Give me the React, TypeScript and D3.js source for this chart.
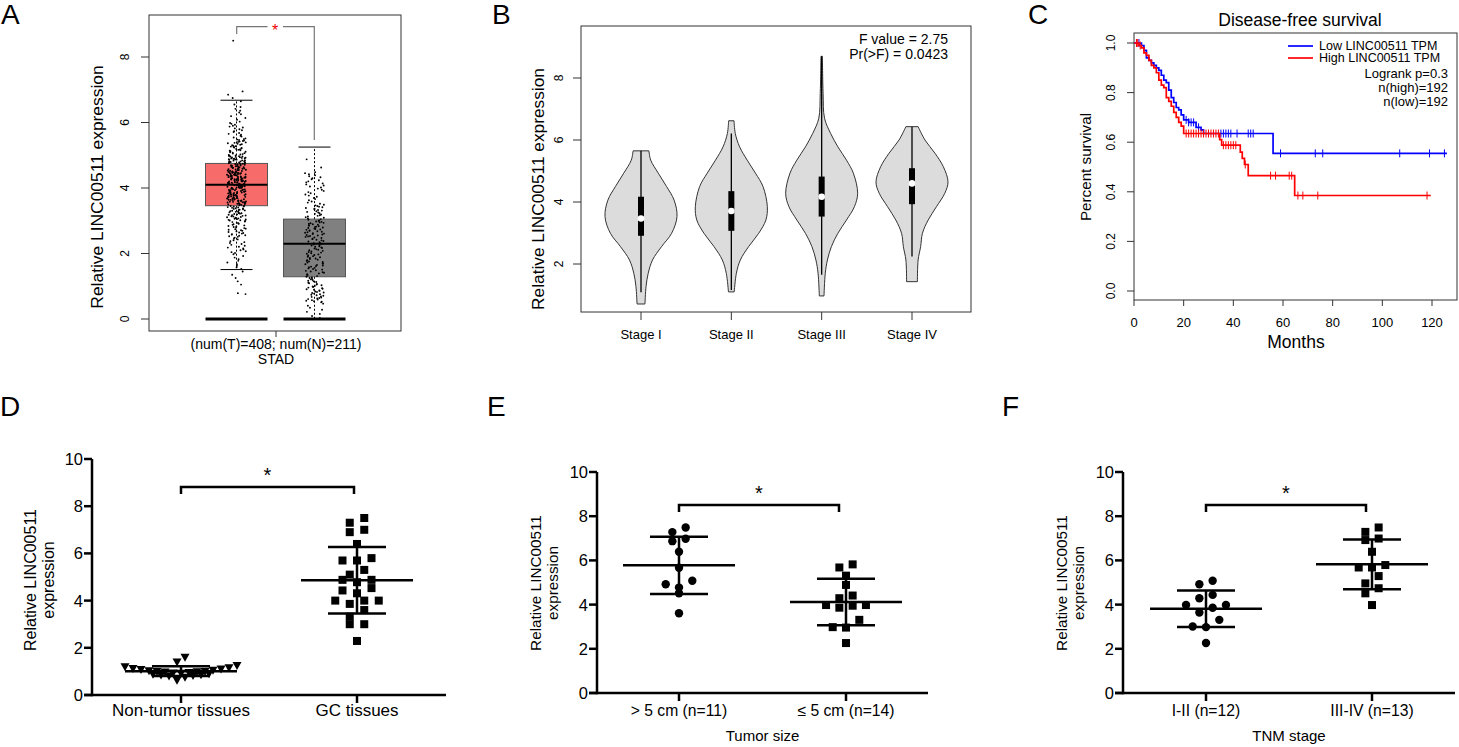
import React from 'react';
import * as d3 from 'd3';

const FONT = "'Liberation Sans', Arial, Helvetica, sans-serif";

// ---------- A: GEPIA box plot (STAD) ----------
const stadTicks = [0, 2, 4, 6, 8];
// [lower whisker, q1, median, q3, upper whisker]
const tumorBox = [1.51, 3.46, 4.1, 4.75, 6.68];
const normalBox = [0.0, 1.29, 2.3, 3.05, 5.25];
// jitter points, read as counts per 0.5-wide bin
const tumorBinStart = 1.0;
const tumorBinCounts = [5, 10, 18, 30, 45, 75, 90, 65, 35, 18, 9, 5];
const tumorExtremes = [0.76, 0.79, 8.5];
const normalBinStart = 0;
const normalBinCounts = [8, 30, 25, 28, 28, 35, 25, 14, 16, 2];

// ---------- B: violin by stage ----------
const stageLabels = ['Stage I', 'Stage II', 'Stage III', 'Stage IV'];
const stageTicks = [2, 4, 6, 8];
// [value, relative density]
const violinStageI: [number, number][] = [
  [0.71, 0.11], [1.27, 0.14], [1.7, 0.2], [2.13, 0.32], [2.56, 0.57], [2.99, 0.85],
  [3.53, 1.0], [4.06, 0.92], [4.5, 0.71], [4.93, 0.48], [5.35, 0.27], [5.65, 0.22],
];
const violinStageII: [number, number][] = [
  [1.1, 0.08], [1.7, 0.14], [2.13, 0.25], [2.56, 0.48], [2.99, 0.76], [3.42, 0.96],
  [3.85, 1.0], [4.5, 0.88], [4.93, 0.67], [5.35, 0.44], [5.78, 0.23], [6.21, 0.11], [6.62, 0.075],
];
const violinStageIII: [number, number][] = [
  [0.97, 0.065], [1.7, 0.1], [2.13, 0.16], [2.56, 0.27], [2.99, 0.45], [3.42, 0.69],
  [3.85, 0.91], [4.28, 1.0], [4.93, 0.88], [5.35, 0.69], [5.78, 0.45], [6.21, 0.25],
  [6.7, 0.08], [7.5, 0.04], [8.7, 0.02],
];
const violinStageIV: [number, number][] = [
  [1.43, 0.15], [2.13, 0.17], [2.56, 0.24], [2.99, 0.29], [3.42, 0.45], [3.85, 0.68],
  [4.28, 0.91], [4.65, 1.0], [5.14, 0.87], [5.57, 0.64], [6.0, 0.36], [6.43, 0.17],
];
const stageViolins = [violinStageI, violinStageII, violinStageIII, violinStageIV];
const stageQ1 = [2.91, 3.07, 3.53, 3.93];
const stageMedian = [3.47, 3.71, 4.17, 4.6];
const stageQ3 = [4.17, 4.35, 4.82, 5.09];
const stageLow = [1.09, 1.16, 1.65, 2.24];
const stageHigh = [5.65, 6.21, 8.7, 6.43];

// ---------- C: Kaplan-Meier ----------
const kmXTicks = [0, 20, 40, 60, 80, 100, 120];
const kmYTicks = [0, 0.2, 0.4, 0.6, 0.8, 1.0];
const lowTimes = [0, 3, 4, 5, 6, 7, 8, 9, 10, 11, 12, 13, 14, 15, 16, 17, 18, 19, 20, 22, 25, 27, 28, 56];
const lowSurv = [1.0, 0.99, 0.97, 0.94, 0.93, 0.92, 0.91, 0.9, 0.89, 0.87, 0.85, 0.84, 0.81, 0.78, 0.76, 0.74, 0.73, 0.71, 0.69, 0.68, 0.66, 0.65, 0.635, 0.555];
const lowEnd = 126;
const lowCensor = [1, 2, 21, 22, 23, 24, 26, 35, 36, 37, 38, 39, 41.5, 46, 47, 48, 59, 73, 76, 107, 119, 125];
const highTimes = [0, 2, 3, 4, 5, 6, 7, 8, 9, 10, 11, 12, 13, 14, 15, 16, 17, 18, 19, 20, 34.5, 35.3, 42.8, 43.6, 44.5, 46, 64.7];
const highSurv = [1.0, 0.99, 0.98, 0.96, 0.95, 0.93, 0.91, 0.9, 0.88, 0.85, 0.83, 0.82, 0.78, 0.765, 0.745, 0.72, 0.7, 0.68, 0.665, 0.635, 0.61, 0.588, 0.56, 0.535, 0.51, 0.465, 0.385];
const highEnd = 119.5;
const highCensor = [1, 1.5, 2.5, 21, 22, 23, 24, 25, 26, 27, 28, 29, 30, 31, 32, 33, 34, 36, 37, 38, 39, 40, 41, 44.8, 55, 57, 62.5, 63.5, 66, 68, 74, 118];
const kmLegend = ['Low LINC00511 TPM', 'High LINC00511 TPM'];
const kmNotes = ['Logrank p=0.3', 'n(high)=192', 'n(low)=192'];

// ---------- D/E/F: dot plots ----------
const dotTicks = [0, 2, 4, 6, 8, 10];
const nonTumor = [1.6, 1.4, 1.25, 1.2, 1.15, 1.12, 1.1, 1.08, 1.05, 1.03, 1.0, 1.0, 0.98, 0.97, 0.95, 0.93, 0.92, 0.9, 0.88, 0.86, 0.85, 0.83, 0.8, 0.75, 0.62];
const gcTissue = [7.5, 7.0, 7.3, 6.9, 6.4, 5.7, 5.7, 5.8, 5.3, 5.1, 4.78, 4.88, 4.88, 4.43, 4.53, 4.31, 4.0, 4.0, 4.0, 3.86, 3.6, 3.32, 3.0, 3.0, 2.29];
const bigTumor = [7.49, 7.28, 6.87, 6.98, 6.39, 5.67, 5.08, 4.92, 4.77, 4.51, 3.61];
const smallTumor = [5.68, 5.82, 5.31, 4.89, 4.29, 4.41, 3.98, 3.86, 3.95, 3.98, 3.31, 2.98, 2.96, 2.26];
const earlyStage = [5.08, 4.92, 4.44, 4.29, 3.98, 3.98, 3.86, 3.64, 3.31, 3.01, 2.98, 2.26];
const lateStage = [7.49, 7.29, 6.92, 6.99, 6.39, 5.79, 5.68, 5.68, 5.29, 4.96, 4.74, 4.51, 3.98];

const binsToValues = (start: number, counts: number[], step = 0.5) => {
  const out: number[] = [];
  counts.forEach((n, b) => {
    for (let j = 0; j < n; j++) out.push(start + b * step + ((j + 0.5) / n) * step);
  });
  return out;
};

// deterministic horizontal jitter in [-0.5, 0.5)
const jitter = (k: number) => {
  const s = Math.sin(k * 12.9898 + 78.233) * 43758.5453;
  return s - Math.floor(s) - 0.5;
};

const Letter = ({ x, y, t }: { x: number; y: number; t: string }) => (
  <text x={x} y={y} fontSize={28}>{t}</text>
);

function PanelA() {
  const y = d3.scaleLinear().domain([0, 8]).range([319, 57]);
  const groups = [
    { cx: 236.5, box: tumorBox, fill: '#f76b6b', pts: [...binsToValues(tumorBinStart, tumorBinCounts), ...tumorExtremes], cap: 16, dashLow: true },
    { cx: 314.5, box: normalBox, fill: '#808080', pts: binsToValues(normalBinStart, normalBinCounts), cap: 16, dashLow: false },
  ];
  const half = 31;
  let k = 0;
  return (
    <g>
      <Letter x={1} y={24} t="A" />
      <rect x={149} y={15} width={252} height={316} fill="none" stroke="#333" strokeWidth={1} />
      {stadTicks.map((t) => (
        <g key={t}>
          <line x1={141} x2={149} y1={y(t)} y2={y(t)} stroke="#333" />
          <text transform={`translate(125,${y(t)}) rotate(-90)`} textAnchor="middle" dominantBaseline="central" fontSize={12}>{t}</text>
        </g>
      ))}
      <text transform="translate(97,187) rotate(-90)" textAnchor="middle" dominantBaseline="central" fontSize={17.4}>Relative LINC00511 expression</text>
      <line x1={276} x2={276} y1={331} y2={337} stroke="#333" />
      <text x={276} y={349} textAnchor="middle" fontSize={14}>(num(T)=408; num(N)=211)</text>
      <text x={276} y={364} textAnchor="middle" fontSize={14}>STAD</text>
      {groups.map((g, gi) => {
        const [lo, q1, med, q3, hi] = g.box;
        return (
          <g key={gi}>
            <line x1={g.cx} x2={g.cx} y1={y(q3)} y2={y(hi)} stroke="#000" strokeDasharray="2,2" />
            <line x1={g.cx} x2={g.cx} y1={y(q1)} y2={y(lo)} stroke="#000" strokeDasharray="2,2" />
            <line x1={g.cx - g.cap} x2={g.cx + g.cap} y1={y(hi)} y2={y(hi)} stroke="#000" />
            {g.dashLow && <line x1={g.cx - g.cap} x2={g.cx + g.cap} y1={y(lo)} y2={y(lo)} stroke="#000" />}
            <rect x={g.cx - half} y={y(q3)} width={half * 2} height={y(q1) - y(q3)} fill={g.fill} stroke="#555" />
            <line x1={g.cx - half} x2={g.cx + half} y1={y(med)} y2={y(med)} stroke="#000" strokeWidth={2} />
            <line x1={g.cx - half} x2={g.cx + half} y1={y(0)} y2={y(0)} stroke="#000" strokeWidth={3} />
            {g.pts.map((v, i) => {
              k++;
              return <circle key={i} cx={g.cx + jitter(k) * 19} cy={y(v)} r={0.95} fill="#000" />;
            })}
          </g>
        );
      })}
      <path d="M236.7,34 V26.7 H267.5 M283,26.7 H314.3 V140" fill="none" stroke="#777" strokeWidth={1.2} />
      <text x={275} y={35.5} textAnchor="middle" fontSize={16} fill="#e00">*</text>
    </g>
  );
}

function PanelB() {
  const y = d3.scaleLinear().domain([2, 8]).range([264, 78]);
  const x = d3.scalePoint<string>().domain(stageLabels).range([641, 912]);
  const w = d3.scaleLinear().domain([0, 1]).range([0, 36]);
  return (
    <g>
      <Letter x={492} y={24} t="B" />
      <rect x={581} y={26} width={390} height={286} fill="none" stroke="#333" />
      {stageTicks.map((t) => (
        <g key={t}>
          <line x1={573} x2={581} y1={y(t)} y2={y(t)} stroke="#333" />
          <text transform={`translate(559,${y(t)}) rotate(-90)`} textAnchor="middle" dominantBaseline="central" fontSize={12}>{t}</text>
        </g>
      ))}
      <text transform="translate(538,189) rotate(-90)" textAnchor="middle" dominantBaseline="central" fontSize={17.3}>Relative LINC00511 expression</text>
      {stageLabels.map((s, i) => {
        const cx = x(s)!;
        const area = d3.area<[number, number]>()
          .y((d) => y(d[0]))
          .x0((d) => cx - w(d[1]))
          .x1((d) => cx + w(d[1]))
          .curve(d3.curveCatmullRom.alpha(0.5));
        return (
          <g key={s}>
            <line x1={cx} x2={cx} y1={312} y2={320} stroke="#333" />
            <text x={cx} y={339} textAnchor="middle" fontSize={13}>{s}</text>
            <path d={area(stageViolins[i]) || ''} fill="#dcdcdc" stroke="#333" strokeWidth={1} />
            <line x1={cx} x2={cx} y1={y(stageLow[i])} y2={y(stageHigh[i])} stroke="#000" strokeWidth={1.3} />
            <rect x={cx - 3} y={y(stageQ3[i])} width={6} height={y(stageQ1[i]) - y(stageQ3[i])} fill="#000" />
            <circle cx={cx} cy={y(stageMedian[i])} r={3.3} fill="#fff" />
          </g>
        );
      })}
      <text x={948} y={39} textAnchor="end" dominantBaseline="central" fontSize={14}>F value = 2.75</text>
      <text x={948} y={54} textAnchor="end" dominantBaseline="central" fontSize={14}>Pr(&gt;F) = 0.0423</text>
    </g>
  );
}

function PanelC() {
  const x = d3.scaleLinear().domain([0, 120]).range([1134, 1432]);
  const y = d3.scaleLinear().domain([0, 1]).range([291, 43]);
  const line = d3.line<[number, number]>().x((d) => x(d[0])).y((d) => y(d[1])).curve(d3.curveStepAfter);
  const series = [
    { times: lowTimes, surv: lowSurv, end: lowEnd, cens: lowCensor, color: '#0000ff' },
    { times: highTimes, surv: highSurv, end: highEnd, cens: highCensor, color: '#ff0000' },
  ];
  return (
    <g>
      <Letter x={1028} y={24} t="C" />
      <text x={1300} y={20} textAnchor="middle" dominantBaseline="central" fontSize={17.5}>Disease-free survival</text>
      <rect x={1134} y={33} width={323} height={267} fill="none" stroke="#333" />
      {kmYTicks.map((t) => (
        <g key={t}>
          <line x1={1127} x2={1134} y1={y(t)} y2={y(t)} stroke="#333" />
          <text transform={`translate(1111,${y(t)}) rotate(-90)`} textAnchor="middle" dominantBaseline="central" fontSize={12}>{t.toFixed(1)}</text>
        </g>
      ))}
      {kmXTicks.map((t) => (
        <g key={t}>
          <line x1={x(t)} x2={x(t)} y1={300} y2={306} stroke="#333" />
          <text x={x(t)} y={327} textAnchor="middle" fontSize={13}>{t}</text>
        </g>
      ))}
      <text x={1296} y={348} textAnchor="middle" fontSize={17.5}>Months</text>
      <text transform="translate(1085,167) rotate(-90)" textAnchor="middle" dominantBaseline="central" fontSize={15.2}>Percent survival</text>
      {series.map((s, i) => {
        const pts: [number, number][] = s.times.map((t, j) => [t, s.surv[j]]);
        pts.push([s.end, s.surv[s.surv.length - 1]]);
        const at = (t: number) => {
          let v = s.surv[0];
          s.times.forEach((tt, j) => { if (tt <= t) v = s.surv[j]; });
          return v;
        };
        return (
          <g key={i}>
            <path d={line(pts) || ''} fill="none" stroke={s.color} strokeWidth={1.7} />
            {s.cens.map((c, j) => (
              <line key={j} x1={x(c)} x2={x(c)} y1={y(at(c)) - 4} y2={y(at(c)) + 4} stroke={s.color} strokeWidth={1} />
            ))}
          </g>
        );
      })}
      {kmLegend.map((l, i) => (
        <g key={l}>
          <line x1={1288} x2={1313} y1={46 + i * 12} y2={46 + i * 12} stroke={i === 0 ? '#0000ff' : '#ff0000'} strokeWidth={1.7} />
          <text x={1319} y={46 + i * 12} dominantBaseline="central" fontSize={12.5}>{l}</text>
        </g>
      ))}
      {kmNotes.map((n, i) => (
        <text key={n} x={1448} y={73 + i * 14} textAnchor="end" dominantBaseline="central" fontSize={13}>{n}</text>
      ))}
    </g>
  );
}

type Shape = 'circle' | 'square' | 'triangle';

// GraphPad-like scatter: points close in y share a row, centred on the category;
// inside a row the lowest values sit nearest the centre
function rowSwarm(values: number[], y: (v: number) => number, cx: number, spacing: number, rowH: number) {
  const sorted = values.map((v) => ({ v, py: y(v) })).sort((a, b) => b.v - a.v);
  const rows: { v: number; py: number }[][] = [];
  for (const p of sorted) {
    const last = rows[rows.length - 1];
    if (last && p.py - last[0].py < rowH) last.push(p);
    else rows.push([p]);
  }
  const out: { px: number; py: number }[] = [];
  rows.forEach((r) => {
    const slots = r.map((_, i) => (i - (r.length - 1) / 2) * spacing)
      .sort((a, b) => Math.abs(a) - Math.abs(b) || a - b);
    const byLow = [...r].sort((a, b) => a.v - b.v);
    byLow.forEach((p, i) => out.push({ px: cx + slots[i], py: p.py }));
  });
  return out;
}

function Marker({ shape, x, y }: { shape: Shape; x: number; y: number }) {
  if (shape === 'circle') return <circle cx={x} cy={y} r={4.2} fill="#000" />;
  if (shape === 'square') return <rect x={x - 4} y={y - 4} width={8} height={8} fill="#000" />;
  return <path d={`M${x - 4.5},${y - 3.5} L${x + 4.5},${y - 3.5} L${x},${y + 4.5} Z`} fill="#000" />;
}

interface DotProps {
  letter: string; letterX: number;
  axisX: number; rightX: number; y0: number; y10: number;
  cats: string[]; catX: [number, number];
  groups: { values: number[]; shape: Shape; spacing: number }[];
  bracketY: number; bracketRight: number; starY: number;
  yLabelX: [number, number]; yLabelCy: number; labelSize: number; catSize: number;
  xTitle?: string;
}

function DotPanel(p: DotProps) {
  const y = d3.scaleLinear().domain([0, 10]).range([p.y0, p.y10]);
  const x = d3.scalePoint<string>().domain(p.cats).range(p.catX);
  return (
    <g>
      <Letter x={p.letterX} y={416} t={p.letter} />
      <line x1={p.axisX} x2={p.axisX} y1={y(0) + 1.25} y2={y(10)} stroke="#000" strokeWidth={2.5} />
      <line x1={p.axisX - 8} x2={p.rightX} y1={y(0)} y2={y(0)} stroke="#000" strokeWidth={2.5} />
      {dotTicks.map((t) => (
        <g key={t}>
          <line x1={p.axisX - 8} x2={p.axisX} y1={y(t)} y2={y(t)} stroke="#000" strokeWidth={2.5} />
          <text x={p.axisX - 9} y={y(t)} textAnchor="end" dominantBaseline="central" fontSize={16.5}>{t}</text>
        </g>
      ))}
      <text transform={`translate(${p.yLabelX[0]},${p.yLabelCy}) rotate(-90)`} textAnchor="middle" dominantBaseline="central" fontSize={p.labelSize}>Relative LINC00511</text>
      <text transform={`translate(${p.yLabelX[1]},${p.yLabelCy}) rotate(-90)`} textAnchor="middle" dominantBaseline="central" fontSize={p.labelSize}>expression</text>
      {p.cats.map((c, i) => {
        const cx = x(c)!;
        const g = p.groups[i];
        const m = d3.mean(g.values)!;
        const sd = d3.deviation(g.values)!;
        const pts = rowSwarm(g.values, y, cx, g.spacing, 8);
        return (
          <g key={c}>
            <line x1={cx} x2={cx} y1={y(0)} y2={y(0) + 8} stroke="#000" strokeWidth={2.5} />
            <text x={cx} y={716} textAnchor="middle" fontSize={p.catSize}>{c}</text>
            {pts.map((q, j) => <Marker key={j} shape={g.shape} x={q.px} y={q.py} />)}
            <line x1={cx - 56} x2={cx + 56} y1={y(m)} y2={y(m)} stroke="#000" strokeWidth={2.5} />
            <line x1={cx - 29} x2={cx + 29} y1={y(m + sd)} y2={y(m + sd)} stroke="#000" strokeWidth={2.5} />
            <line x1={cx - 29} x2={cx + 29} y1={y(m - sd)} y2={y(m - sd)} stroke="#000" strokeWidth={2.5} />
            <line x1={cx} x2={cx} y1={y(m - sd)} y2={y(m + sd)} stroke="#000" strokeWidth={2.5} />
          </g>
        );
      })}
      <path d={`M${p.catX[0]},${p.bracketY + 7} V${p.bracketY} H${p.bracketRight} V${p.bracketY + 7}`} fill="none" stroke="#000" strokeWidth={2.5} />
      <text x={(p.catX[0] + p.bracketRight) / 2} y={p.starY + 11.5} textAnchor="middle" fontSize={20}>*</text>
      {p.xTitle && (
        <text x={(p.catX[0] + p.catX[1]) / 2} y={741} textAnchor="middle" fontSize={15}>{p.xTitle}</text>
      )}
    </g>
  );
}

export default function App() {
  return (
    <div>
      <style>{'body{margin:0}'}</style>
      <svg width={1459} height={747} viewBox="0 0 1459 747" style={{ display: 'block', background: '#fff' }} fontFamily={FONT}>
        <PanelA />
        <PanelB />
        <PanelC />
        <DotPanel letter="D" letterX={0} axisX={92} rightX={446} y0={695} y10={459}
          cats={['Non-tumor tissues', 'GC tissues']} catX={[181, 357]}
          groups={[{ values: nonTumor, shape: 'triangle', spacing: 8 }, { values: gcTissue, shape: 'square', spacing: 14.5 }]}
          bracketY={487} bracketRight={354} starY={470}
          yLabelX={[30, 48]} yLabelCy={580} labelSize={16} catSize={17} />
        <DotPanel letter="E" letterX={487} axisX={597} rightX={928} y0={693} y10={472}
          cats={['> 5 cm (n=11)', '≤ 5 cm (n=14)']} catX={[679, 846]}
          groups={[{ values: bigTumor, shape: 'circle', spacing: 13.3 }, { values: smallTumor, shape: 'square', spacing: 13.3 }]}
          bracketY={505} bracketRight={839} starY={488}
          yLabelX={[535, 552]} yLabelCy={583} labelSize={15.3} catSize={15.7} xTitle="Tumor size" />
        <DotPanel letter="F" letterX={1002} axisX={1123} rightX={1455} y0={693} y10={472}
          cats={['I-II (n=12)', 'III-IV (n=13)']} catX={[1206, 1372]}
          groups={[{ values: earlyStage, shape: 'circle', spacing: 13.3 }, { values: lateStage, shape: 'square', spacing: 13.3 }]}
          bracketY={505} bracketRight={1366} starY={488}
          yLabelX={[1061, 1078]} yLabelCy={583} labelSize={15.3} catSize={15.7} xTitle="TNM stage" />
      </svg>
    </div>
  );
}
